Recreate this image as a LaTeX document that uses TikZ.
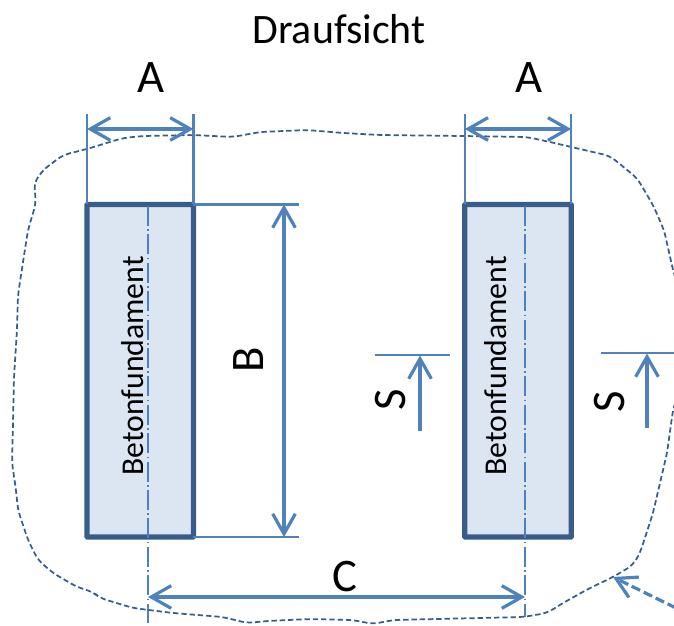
\documentclass[tikz,border=0pt]{standalone}
\usepackage{fontspec}
\setmainfont{Carlito}
\usetikzlibrary{arrows.meta}

\definecolor{dimblue}{HTML}{4F81BD}
\definecolor{edgeblue}{HTML}{385D8A}
\definecolor{fillblue}{HTML}{DCE6F2}

\tikzset{
  >={Straight Barb[length=15pt,width=17pt,line width=2.4pt]},
  fundament/.style={draw=edgeblue, fill=fillblue, line width=4pt, rounded corners=0.5pt,
    minimum width=79.8pt, minimum height=249.4pt, inner sep=0pt, outer sep=0pt},
  extline/.style={draw=dimblue, line width=1.6pt},
  dimline/.style={draw=dimblue, line width=2.5pt},
  axisline/.style={draw=dimblue, line width=1.5pt, dash pattern=on 15pt off 2.5pt on 1.3pt off 2.5pt},
  outline/.style={draw=edgeblue, line width=1.3pt, dash pattern=on 4pt off 2.2pt, rounded corners=5pt},
  pointer/.style={draw=dimblue, line width=2.4pt, dash pattern=on 7pt off 3pt},
  biglabel/.style={text=black, font=\fontsize{35}{35}\selectfont, inner sep=0pt},
  titlelabel/.style={text=black, font=\fontsize{31.4}{34}\selectfont, inner sep=0pt},
  innerlabel/.style={text=black, font=\fontsize{23.8}{26}\selectfont, inner sep=0pt, rotate=90}
}

\begin{document}
\begin{tikzpicture}[x=0.75pt, y=-0.75pt]
  \useasboundingbox (0,0) rectangle (674,625);
  \clip (0,0) rectangle (674,625);

  \node [fundament] (fundL) at (140.25,370.75) {};
  \node [fundament] (fundR) at (518,370.75) {};

  \coordinate (axisLtop) at (147.5,206);
  \coordinate (axisLend) at (147.5,623);
  \coordinate (axisRtop) at (525,206);
  \coordinate (axisRend) at (525,617);
  \draw [axisline] (axisLtop) -- (axisLend);
  \draw [axisline] (axisRtop) -- (axisRend);

  \node [innerlabel] (betonL) at (133,366) {Betonfundament};
  \node [innerlabel] (betonR) at (496,366) {Betonfundament};

  \draw [outline] (36,203) -- (28,230) -- (23,262) -- (18,295) -- (17,330) -- (14,377)
    -- (13,423) -- (12,463) -- (16,490) -- (18,510) -- (28,540) -- (38,560) -- (53,573)
    -- (77,587) -- (93,592) -- (100,598) -- (133,608) -- (173,613) -- (223,617)
    -- (247,623) -- (267,621) -- (310,619) -- (353,620) -- (373,624) -- (393,620)
    -- (523,617) -- (547,613) -- (563,603) -- (590,588) -- (613,577) -- (633,565)
    -- (640,553) -- (653,513) -- (667,453) -- (673,410) -- (682,380) -- (682,300)
    -- (673,270) -- (664,230) -- (653,205) -- (637,178) -- (610,156) -- (550,142)
    -- (527,137) -- (463,136) -- (380,135) -- (343,133) -- (307,130) -- (260,132)
    -- (233,137) -- (193,135) -- (143,136) -- (123,138) -- (87,149) -- (63,155)
    -- (43,170) -- (34,183) -- cycle;

  \coordinate (extAa) at (fundL.north west |- 0,114);
  \coordinate (extAb) at (fundL.north east |- 0,114);
  \coordinate (extAc) at (fundR.north west |- 0,114);
  \coordinate (extAd) at (fundR.north east |- 0,114);
  \coordinate (dimAa) at (fundL.north west |- 0,129);
  \coordinate (dimAb) at (fundL.north east |- 0,129);
  \coordinate (dimAc) at (fundR.north west |- 0,129);
  \coordinate (dimAd) at (fundR.north east |- 0,129);
  \draw [extline] (extAa) -- (fundL.north west);
  \draw [extline] (extAb) -- (fundL.north east);
  \draw [extline] (extAc) -- (fundR.north west);
  \draw [extline] (extAd) -- (fundR.north east);
  \draw [dimline, <->] (dimAa) -- (dimAb);
  \draw [dimline, <->] (dimAc) -- (dimAd);

  \coordinate (extBa) at (fundL.north east -| 299,0);
  \coordinate (extBb) at (fundL.south east -| 299,0);
  \coordinate (dimBa) at (fundL.north east -| 284,0);
  \coordinate (dimBb) at (fundL.south east -| 284,0);
  \draw [extline] (fundL.north east) -- (extBa);
  \draw [extline] (fundL.south east) -- (extBb);
  \draw [dimline, <->] (dimBa) -- (dimBb);

  \coordinate (dimCa) at (148,597);
  \coordinate (dimCb) at (525,597);
  \draw [dimline, <->] (dimCa) -- (dimCb);

  \coordinate (cutLa) at (375,355);
  \coordinate (cutLb) at (450,355);
  \coordinate (cutLtip) at (420,355.5);
  \coordinate (cutLend) at (420,431);
  \draw [extline] (cutLa) -- (cutLb);
  \draw [dimline, ->] (cutLend) -- (cutLtip);

  \coordinate (cutRa) at (601,353);
  \coordinate (cutRb) at (674,353);
  \coordinate (cutRtip) at (647,353.5);
  \coordinate (cutRend) at (647,428);
  \draw [extline] (cutRa) -- (cutRb);
  \draw [dimline, ->] (cutRend) -- (cutRtip);

  \coordinate (markfrom) at (676,608);
  \coordinate (markto) at (613,577);
  \draw [pointer, ->] (markfrom) -- (markto);

  \node [titlelabel] (title) at (339,29) {Draufsicht};
  \node [biglabel] (labAa) at (151,78) {A};
  \node [biglabel] (labAb) at (529,78) {A};
  \node [biglabel, rotate=90] (labB) at (249,360) {B};
  \node [biglabel] (labC) at (345,577) {C};
  \node [biglabel, rotate=90] (labSa) at (391,400) {S};
  \node [biglabel, rotate=90] (labSb) at (610,402) {S};
\end{tikzpicture}
\end{document}
